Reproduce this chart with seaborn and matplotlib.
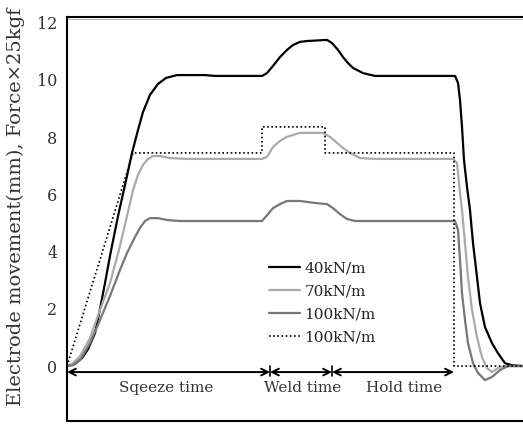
import numpy as np
import pandas as pd
import matplotlib
matplotlib.use("Agg")
import matplotlib.pyplot as plt
import seaborn as sns

# ---- data (time in arbitrary units, values in mm / force units) ----
t_40 = [0, 8, 15, 21, 28, 33, 38, 43, 51, 58, 65, 71, 76, 83, 91, 99, 110, 138, 148,
        195, 200, 206, 213, 220, 226, 233, 240, 260, 265, 271, 276, 281, 286, 296, 308,
        388, 391, 393, 395, 397, 400, 403, 406, 410, 413, 418, 425, 431, 438, 445, 456]
v_40 = [0, 0.07, 0.28, 0.59, 1.15, 1.99, 2.90, 3.85, 5.24, 6.33, 7.45, 8.25, 8.88, 9.48,
        9.86, 10.07, 10.17, 10.17, 10.14, 10.14, 10.24, 10.49, 10.80, 11.05, 11.22, 11.33,
        11.36, 11.40, 11.29, 11.05, 10.80, 10.59, 10.42, 10.24, 10.14,
        10.14, 9.90, 9.30, 8.36, 7.20, 6.26, 5.45, 4.30, 3.11, 2.20, 1.36, 0.80, 0.45,
        0.10, 0.03, 0]

t_70 = [0, 5, 13, 18, 23, 33, 43, 52, 60, 66, 71, 76, 81, 86, 93, 103, 120, 195, 200,
        206, 213, 220, 233, 256, 263, 270, 276, 283, 293, 308,
        386, 390, 393, 395, 398, 401, 405, 410, 415, 420, 425, 431, 440, 456]
v_70 = [0, 0.07, 0.35, 0.66, 0.98, 1.96, 2.90, 4.06, 5.24, 6.15, 6.68, 7.03, 7.24, 7.34,
        7.34, 7.27, 7.24, 7.24, 7.31, 7.66, 7.87, 8.01, 8.15, 8.15, 8.01, 7.80, 7.62, 7.45,
        7.27, 7.24,
        7.24, 7.10, 6.05, 5.45, 4.30, 3.11, 1.96, 1.01, 0.31, -0.07, -0.21, -0.07, 0, 0]

t_100 = [0, 6, 13, 23, 33, 43, 53, 60, 68, 73, 78, 83, 91, 101, 113, 195, 201, 206, 213,
         220, 233, 248, 260, 266, 273, 280, 288,
         388, 391, 393, 395, 398, 401, 406, 411, 418, 425, 433, 441, 456]
v_100 = [0, 0.03, 0.21, 0.80, 1.61, 2.45, 3.36, 3.95, 4.51, 4.83, 5.07, 5.17, 5.17, 5.10,
         5.07, 5.07, 5.31, 5.52, 5.66, 5.77, 5.77, 5.70, 5.66, 5.52, 5.31, 5.14, 5.07,
         5.07, 4.76, 3.71, 2.55, 1.61, 0.80, 0.10, -0.24, -0.49, -0.38, -0.14, 0, 0]

t_force = [0, 66, 195, 195, 258, 258, 387, 387, 456]
v_force = [0, 7.45, 7.45, 8.36, 8.36, 7.45, 7.45, 0, 0]

series_labels = ["40kN/m", "70kN/m", "100kN/m", "100kN/m"]
phase_labels = ["Sqeeze time", "Weld time", "Hold time"]
phase_bounds = [0, 203, 265, 387]
phase_text_x = [99, 236, 337]
y_ticks = [0, 2, 4, 6, 8, 10, 12]

# ---- figure ----
sns.set_theme(style="white")
plt.rcParams["font.family"] = ["DejaVu Serif"]

fig = plt.figure(figsize=(5.23, 4.32), dpi=100)
ax = fig.add_axes([67 / 523, 11 / 432, 456 / 523, 404 / 432])

sns.lineplot(x=t_40, y=v_40, ax=ax, color="black", lw=1.6, sort=False,
             estimator=None, label=series_labels[0])
sns.lineplot(x=t_70, y=v_70, ax=ax, color="#aaaaaa", lw=1.6, sort=False,
             estimator=None, label=series_labels[1])
sns.lineplot(x=t_100, y=v_100, ax=ax, color="#777777", lw=1.6, sort=False,
             estimator=None, label=series_labels[2])
sns.lineplot(x=t_force, y=v_force, ax=ax, color="black", lw=1.2, sort=False,
             estimator=None, label=series_labels[3], linestyle=(0, (1, 1.5)))

ax.set_xlim(0, 456)
ax.set_ylim(-1.92, 12.2)
ax.set_yticks(y_ticks)
ax.set_xticks([])
ax.tick_params(axis="y", length=0, pad=7, labelsize=11.5, colors="#333333")

for s in ["left", "bottom", "top"]:
    ax.spines[s].set_visible(True)
    ax.spines[s].set_color("black")
    ax.spines[s].set_linewidth(1.5)
ax.spines["right"].set_visible(False)
# faint shadow under the top frame line
ax.axhline(12.2 - 0.07, color="#bbbbbb", lw=0.8)

ax.set_ylabel("Electrode movement(mm), Force×25kgf", fontsize=14, color="#333333")
ax.yaxis.set_label_coords(-0.092, 0.53)

# phase arrows
y_arrow = -0.21
for i in range(3):
    a, b = phase_bounds[i], phase_bounds[i + 1]
    ax.annotate("", xy=(b, y_arrow), xytext=(a, y_arrow),
                arrowprops=dict(arrowstyle="<->", lw=1.4, color="black",
                                shrinkA=0, shrinkB=0, mutation_scale=12))
    ax.text(phase_text_x[i], -0.77, phase_labels[i], ha="center", va="center",
            fontsize=11, color="#333333")
for xb in phase_bounds[1:3]:
    ax.plot([xb, xb], [y_arrow + 0.2, y_arrow - 0.15], color="black", lw=1.2)

leg = ax.legend(loc="upper left", bbox_to_anchor=(0.43, 0.41), frameon=False,
                fontsize=11, handlelength=2.0, handletextpad=0.3, labelspacing=0.58,
                borderaxespad=0)
for txt in leg.get_texts():
    txt.set_color("#222222")

fig.savefig("out.png", dpi=100)
